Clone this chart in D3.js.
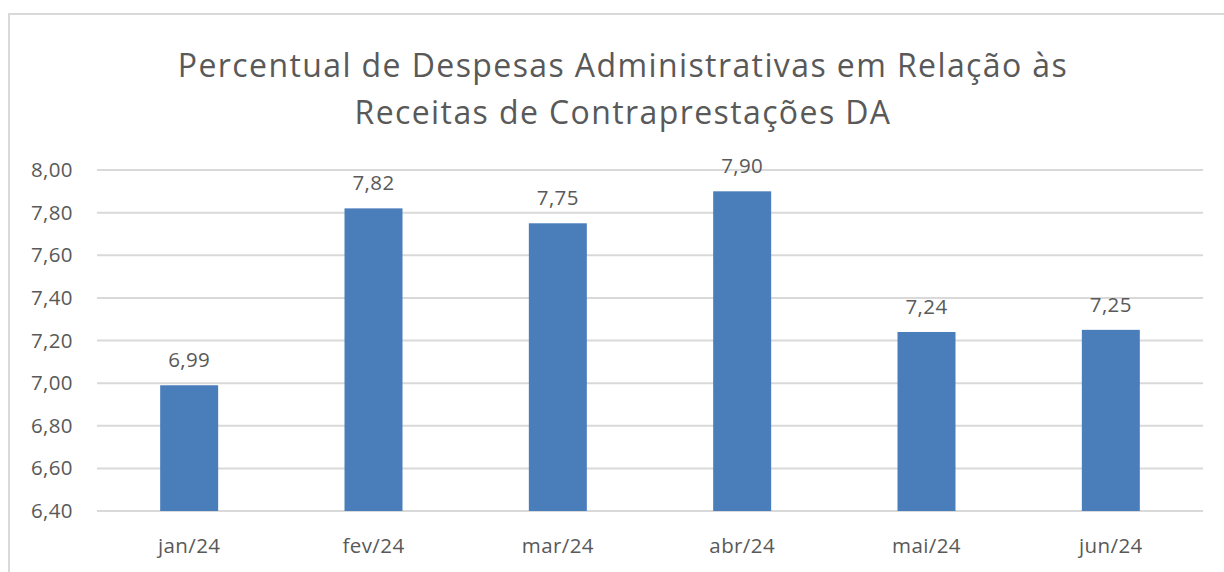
<!DOCTYPE html>
<html>
<head>
<meta charset="utf-8">
<script src="https://cdn.jsdelivr.net/npm/d3@7"></script>
<style>
  body { margin: 0; background: #fff; }
  text { font-family: "Open Sans", sans-serif; fill: #595959; }
</style>
</head>
<body>
<div id="chart"></div>
<script>
var titleLines = ["Percentual de Despesas Administrativas em Relação às", "Receitas de Contraprestações DA"];
var months = ["jan/24", "fev/24", "mar/24", "abr/24", "mai/24", "jun/24"];
var values = [6.99, 7.82, 7.75, 7.90, 7.24, 7.25];
var yTicks = [6.40, 6.60, 6.80, 7.00, 7.20, 7.40, 7.60, 7.80, 8.00];

var width = 1224, height = 572;
var plotLeft = 97, plotRight = 1203, plotTop = 170, plotBottom = 511;

var svg = d3.select("#chart").append("svg")
  .attr("width", width)
  .attr("height", height);

// chart frame
svg.append("rect")
  .attr("x", 9).attr("y", 14)
  .attr("width", width + 20).attr("height", height + 20)
  .style("fill", "none")
  .style("stroke", "#d9d9d9")
  .style("stroke-width", 2);

svg.selectAll(".title")
  .data(titleLines)
  .enter()
  .append("text")
  .attr("class", "title")
  .attr("x", 623)
  .attr("y", function(d, i) { return 77 + i * 47 })
  .attr("text-anchor", "middle")
  .style("font-size", "32px")
  .style("letter-spacing", "1.4px")
  .text(function(d) { return d });

var x = d3.scaleBand().domain(months).range([plotLeft, plotRight]);
var y = d3.scaleLinear().domain([6.4, 8.0]).range([plotBottom, plotTop]);
var fmt = function(v) { return d3.format(".2f")(v).replace(".", ",") };

svg.selectAll(".grid")
  .data(yTicks)
  .enter()
  .append("line")
  .attr("x1", plotLeft).attr("x2", plotRight)
  .attr("y1", function(d) { return y(d) })
  .attr("y2", function(d) { return y(d) })
  .style("stroke", "#d9d9d9")
  .style("stroke-width", 2);

var yAxis = svg.append("g")
  .attr("transform", "translate(" + (plotLeft - 24) + ",0)")
  .call(d3.axisLeft(y).tickValues(yTicks).tickFormat(fmt).tickSize(0).tickPadding(0));
yAxis.select(".domain").remove();
yAxis.selectAll("text").style("font-size", "20.5px").style("fill", "#595959").style("font-family", "Open Sans").style("letter-spacing", "0.4px");

var xAxis = svg.append("g")
  .attr("transform", "translate(0," + plotBottom + ")")
  .call(d3.axisBottom(x).tickSize(0).tickPadding(27));
xAxis.select(".domain").remove();
xAxis.selectAll("text").style("font-size", "20.5px").style("fill", "#595959").style("font-family", "Open Sans").style("letter-spacing", "0.4px");

var barW = 58;

svg.selectAll(".bar")
  .data(values)
  .enter()
  .append("rect")
  .attr("x", function(d, i) { return x(months[i]) + x.bandwidth() / 2 - barW / 2 })
  .attr("y", function(d) { return y(d) })
  .attr("width", barW)
  .attr("height", function(d) { return plotBottom - y(d) })
  .style("fill", "#4a7ebb");

svg.selectAll(".label")
  .data(values)
  .enter()
  .append("text")
  .attr("x", function(d, i) { return x(months[i]) + x.bandwidth() / 2 })
  .attr("y", function(d) { return y(d) - 18 })
  .attr("text-anchor", "middle")
  .style("font-size", "20.5px")
  .style("letter-spacing", "0.4px")
  .text(function(d) { return fmt(d) });
</script>
</body>
</html>
